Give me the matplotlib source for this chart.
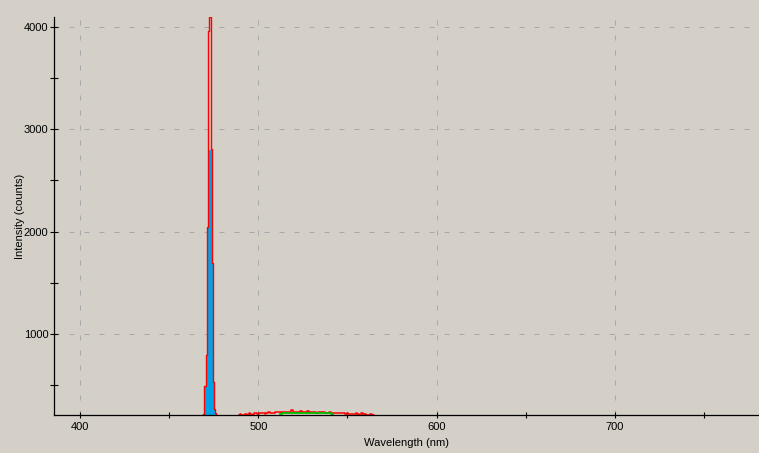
import numpy as np
import matplotlib
matplotlib.use("Agg")
import matplotlib.pyplot as plt

# peak region, one point per detector pixel (~0.56 nm)
peak_wl = [468.4, 469.0, 469.5, 470.1, 470.7, 471.2, 471.8, 472.4, 472.9,
           473.5, 474.0, 474.6, 475.2, 475.7, 476.3, 476.9]
peak_red = [209, 215, 240, 490, 790, 2040, 3960, 4095, 4095,
            2805, 1690, 530, 270, 230, 212, 209]
peak_blue = [209, 212, 230, 480, 780, 2030, 2030, 2800, 2800,
             2800, 1690, 530, 260, 222, 210, 209]

# low level noise after the peak
noise_wl = [489, 490, 491, 492, 493, 494, 495, 496, 497, 498, 499, 500,
            501, 502, 503, 504, 505, 506, 507, 508, 509, 510, 511, 512,
            513, 514, 515, 516, 517, 518, 519, 520, 521, 522, 523, 524,
            525, 526, 527, 528, 529, 530, 531, 532, 533, 534, 535, 536,
            537, 538, 539, 540, 541, 542, 543, 544, 545, 546, 547, 548,
            549, 550, 551, 552, 553, 554, 555, 556, 557, 558, 559, 560,
            561, 562, 563, 564, 565]
noise_red = [209, 222, 209, 209, 218, 209, 225, 222, 209, 228, 226, 220,
             224, 228, 226, 222, 230, 238, 232, 226, 228, 235, 240, 236,
             232, 238, 240, 242, 236, 240, 262, 240, 238, 236, 242, 245,
             240, 238, 236, 250, 242, 240, 236, 240, 232, 238, 242, 234,
             236, 230, 232, 240, 228, 226, 230, 232, 225, 228, 224, 226,
             222, 228, 220, 218, 222, 214, 224, 220, 209, 224, 209, 218,
             209, 212, 220, 209, 209]

green_wl = [512, 514, 516, 518, 520, 522, 524, 526, 528, 530, 532, 534,
            536, 538, 540, 542]
green_val = [222, 226, 228, 230, 230, 232, 230, 230, 226, 228, 230, 230,
             228, 226, 224, 220]

bg = "#D4D0C8"
plt.rcParams["font.family"] = ["Liberation Sans", "DejaVu Sans"]
plt.rcParams["font.size"] = 8

fig = plt.figure(figsize=(7.59, 4.53), dpi=100, facecolor=bg)
ax = fig.add_axes([54 / 759, 38 / 453, 705 / 759, 398 / 453], facecolor=bg)

ax.fill_between(peak_wl, peak_blue, 0, step="mid", color="#00A2E8",
                linewidth=0, zorder=2)
ax.step(peak_wl, peak_red, where="mid", color="#FF0000", lw=1.0, zorder=3)
ax.step(noise_wl, noise_red, where="mid", color="#FF0000", lw=1.1, zorder=3)
ax.step(green_wl, green_val, where="mid", color="#00C000", lw=1.3, zorder=4)

ax.set_xlim(385.4, 780.8)
ax.set_ylim(209, 4095)

ax.set_xticks(np.arange(400, 800, 50))
ax.set_xticklabels(["400", "", "500", "", "600", "", "700", ""])
ax.set_yticks(np.arange(500, 4500, 500))
ax.set_yticklabels(["", "1000", "", "2000", "", "3000", "", "4000"])

for v in [400, 500, 600, 700]:
    ax.axvline(v, color="#A8A8A8", lw=0.72, linestyle=(0, (5, 10)), zorder=1)
for v in [1000, 2000, 3000, 4000]:
    ax.axhline(v, color="#A8A8A8", lw=0.72, linestyle=(0, (5, 10)), zorder=1)

ax.tick_params(axis="y", direction="inout", length=6, width=0.8,
               color="black", labelsize=8, pad=1)
ax.tick_params(axis="x", direction="inout", length=4.5, width=0.8,
               color="black", labelsize=8, pad=3)
for s in ["top", "right"]:
    ax.spines[s].set_visible(False)
for s in ["left", "bottom"]:
    ax.spines[s].set_linewidth(0.9)
    ax.spines[s].set_zorder(5)

ax.set_xlabel("Wavelength (nm)", fontsize=8, labelpad=4)
ax.set_ylabel("Intensity (counts)", fontsize=8)
ax.yaxis.set_label_coords(-0.0415, 0.5)

fig.savefig("out.png", dpi=100, facecolor=bg)
